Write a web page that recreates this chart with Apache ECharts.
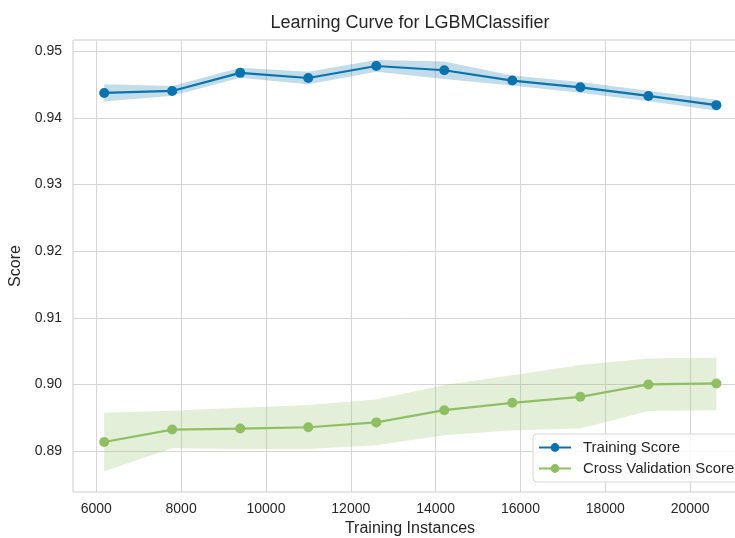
<!DOCTYPE html>
<html>
<head>
<meta charset="utf-8">
<script src="https://cdn.jsdelivr.net/npm/echarts@6/dist/echarts.min.js"></script>
<style>
html,body{margin:0;padding:0;background:#fff;}
#chart{width:735px;height:538px;}
</style>
</head>
<body>
<div id="chart"></div>
<script>
// ---- data ----
const trainSizes = [6186, 7789, 9393, 10997, 12601, 14204, 15808, 17412, 19016, 20619];
const trainMean  = [0.94375, 0.94405, 0.94677, 0.94600, 0.94780, 0.94716, 0.94561, 0.94460, 0.94330, 0.94192];
const trainLower = [0.94245, 0.94332, 0.94602, 0.94505, 0.94692, 0.94586, 0.94486, 0.94380, 0.94250, 0.94112];
const trainUpper = [0.94505, 0.94478, 0.94752, 0.94695, 0.94868, 0.94846, 0.94636, 0.94540, 0.94410, 0.94272];
const cvMean  = [0.89136, 0.89322, 0.89337, 0.89357, 0.89430, 0.89613, 0.89724, 0.89814, 0.90000, 0.90015];
const cvLower = [0.88698, 0.89040, 0.89030, 0.89030, 0.89085, 0.89236, 0.89312, 0.89337, 0.89600, 0.89613];
const cvUpper = [0.89573, 0.89603, 0.89650, 0.89690, 0.89775, 0.89990, 0.90136, 0.90290, 0.90390, 0.90400];
const xTicks = [6000, 8000, 10000, 12000, 14000, 16000, 18000, 20000];
const yTicks = [0.89, 0.90, 0.91, 0.92, 0.93, 0.94, 0.95];

const titleText = 'Learning Curve for LGBMClassifier';
const FONT = '"Liberation Sans", Arial, sans-serif';
const TRAIN_COLOR = '#0a72ad';
const CV_COLOR = '#8fbf62';

const GRID = {left: 73, top: 40, width: 674, height: 452};
const titleSize = 18;

function pairs(xs, ys) { return xs.map((x, i) => [x, ys[i]]); }
function bandData(xs, lo, hi) { return xs.map((x, i) => [x, lo[i], hi[i]]); }

function bandRenderer(color) {
  return function (params, api) {
    if (params.dataIndex !== 0) return null;
    const top = [], bottom = [];
    for (let i = 0; i < trainSizes.length; i++) {
      top.push(api.coord([api.value(0, i), api.value(2, i)]));
      bottom.push(api.coord([api.value(0, i), api.value(1, i)]));
    }
    return {
      type: 'polygon',
      shape: {points: top.concat(bottom.reverse())},
      style: {fill: color, opacity: 0.25},
      silent: true
    };
  };
}

// measure title to center it over the plot area
const cv = document.createElement('canvas').getContext('2d');
cv.font = titleSize + 'px ' + FONT;
const titleW = cv.measureText(titleText).width;

const chart = echarts.init(document.getElementById('chart'), null, {renderer: 'canvas'});
chart.setOption({
  animation: false,
  backgroundColor: '#ffffff',
  title: {
    text: titleText,
    left: GRID.left + GRID.width / 2 - titleW / 2,
    top: 14,
    padding: 0,
    textStyle: {fontFamily: FONT, fontSize: titleSize, fontWeight: 'normal', color: '#262626'}
  },
  grid: {left: GRID.left, top: GRID.top, width: GRID.width, height: GRID.height,
         outerBoundsMode: 'none', containLabel: false,
         show: true, borderColor: '#cccccc', borderWidth: 1, backgroundColor: '#ffffff'},
  legend: {
    data: ['Training Score', 'Cross Validation Score'],
    orient: 'vertical',
    left: 533, top: 434,
    padding: [6, 8, 6, 5],
    itemGap: 6,
    itemWidth: 32, itemHeight: 11,
    backgroundColor: 'rgba(255,255,255,0.85)',
    borderColor: '#d6d6d6', borderWidth: 1, borderRadius: 4,
    textStyle: {fontFamily: FONT, fontSize: 15, color: '#262626', padding: [0, 0, 0, 7]}
  },
  xAxis: {
    type: 'value', min: 5451, max: 21341,
    name: 'Training Instances', nameLocation: 'middle', nameGap: 29,
    nameTextStyle: {fontFamily: FONT, fontSize: 16, color: '#262626'},
    axisLine: {show: false}, axisTick: {show: false, customValues: xTicks},
    axisLabel: {customValues: xTicks, fontFamily: FONT, fontSize: 14, color: '#262626', margin: 10,
                formatter: v => String(v)},
    splitLine: {show: true, lineStyle: {color: '#d5d5d5', width: 1}}
  },
  yAxis: {
    type: 'value', min: 0.88385, max: 0.9517,
    name: 'Score', nameLocation: 'middle', nameGap: 47,
    nameTextStyle: {fontFamily: FONT, fontSize: 16, color: '#262626'},
    axisLine: {show: false}, axisTick: {show: false, customValues: yTicks},
    axisLabel: {customValues: yTicks, fontFamily: FONT, fontSize: 14, color: '#262626', margin: 11,
                formatter: v => v.toFixed(2)},
    splitLine: {show: true, lineStyle: {color: '#d5d5d5', width: 1}}
  },
  series: [
    {name: 'trainBand', type: 'custom', data: bandData(trainSizes, trainLower, trainUpper),
     encode: {x: 0, y: [1, 2]}, renderItem: bandRenderer(TRAIN_COLOR), silent: true, z: 1},
    {name: 'cvBand', type: 'custom', data: bandData(trainSizes, cvLower, cvUpper),
     encode: {x: 0, y: [1, 2]}, renderItem: bandRenderer(CV_COLOR), silent: true, z: 1},
    {name: 'Training Score', type: 'line', data: pairs(trainSizes, trainMean),
     symbol: 'circle', symbolSize: 10, color: TRAIN_COLOR,
     lineStyle: {width: 2.2, color: TRAIN_COLOR}, itemStyle: {color: TRAIN_COLOR}, z: 3},
    {name: 'Cross Validation Score', type: 'line', data: pairs(trainSizes, cvMean),
     symbol: 'circle', symbolSize: 10, color: CV_COLOR,
     lineStyle: {width: 2.2, color: CV_COLOR}, itemStyle: {color: CV_COLOR}, z: 3}
  ]
});
</script>
</body>
</html>
